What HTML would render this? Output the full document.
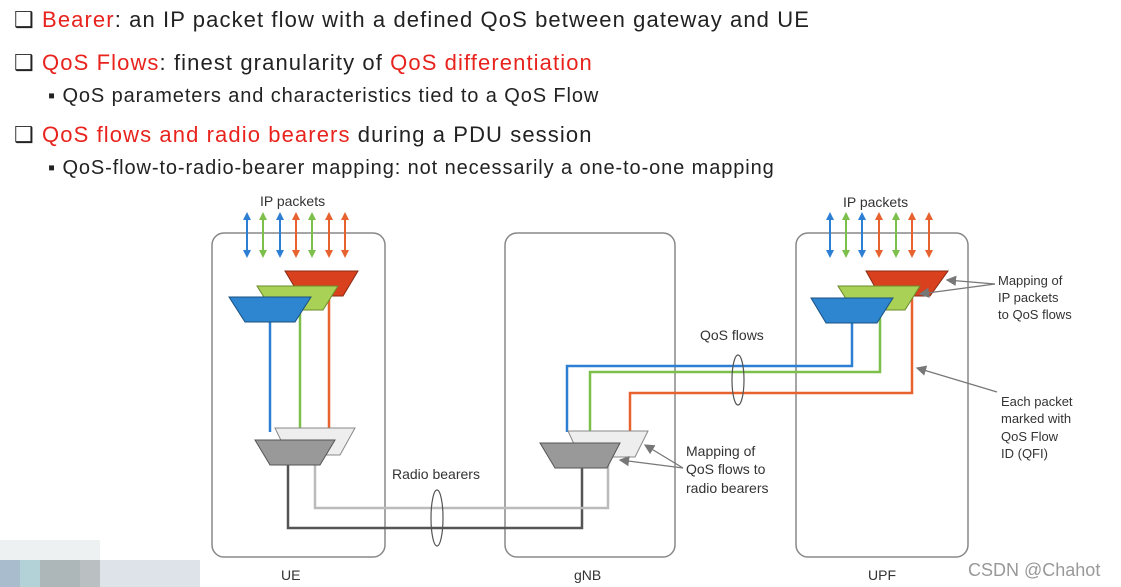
<!DOCTYPE html>
<html><head><meta charset="utf-8"><style>
body{margin:0;width:1121px;height:587px;background:#fff;overflow:hidden;position:relative;font-family:"Liberation Sans",sans-serif}
.t{position:absolute;white-space:nowrap;color:#222}
.h{font-size:22px;letter-spacing:1.1px}
.s{font-size:20px;letter-spacing:0.9px}
.r{color:#e8231d}
</style></head><body>
<div class="t h" style="left:14px;top:7px">❑ <span class="r">Bearer</span>: an IP packet flow with a defined QoS between gateway and UE</div>
<div class="t h" style="left:14px;top:50px">❑ <span class="r">QoS Flows</span>: finest granularity of <span class="r">QoS differentiation</span></div>
<div class="t s" style="left:48px;top:85px">▪ QoS parameters and characteristics tied to a QoS Flow</div>
<div class="t h" style="left:14px;top:122px">❑ <span class="r">QoS flows and radio bearers</span> during a PDU session</div>
<div class="t s" style="left:48px;top:157px">▪ QoS-flow-to-radio-bearer mapping: not necessarily a one-to-one mapping</div>
<svg width="1121" height="587" style="position:absolute;left:0;top:0" font-family="Liberation Sans,sans-serif" font-size="14" fill="#333">
<defs>
<marker id="ab" markerWidth="4" markerHeight="4" refX="2" refY="2" orient="auto-start-reverse"><path d="M0,0L4,2L0,4z" fill="#2d7fd3"/></marker>
<marker id="ag" markerWidth="4" markerHeight="4" refX="2" refY="2" orient="auto-start-reverse"><path d="M0,0L4,2L0,4z" fill="#7cc04b"/></marker>
<marker id="ar" markerWidth="4" markerHeight="4" refX="2" refY="2" orient="auto-start-reverse"><path d="M0,0L4,2L0,4z" fill="#e8622f"/></marker>
<marker id="ak" markerWidth="8" markerHeight="8" refX="7" refY="4" orient="auto"><path d="M0,0L8,4L0,8z" fill="#777"/></marker>
</defs>
<g fill="none" stroke="#888" stroke-width="1.5">
<rect x="212" y="233" width="173" height="324" rx="12"/>
<rect x="505" y="233" width="170" height="324" rx="12"/>
<rect x="796" y="233" width="172" height="324" rx="12"/>
</g>
<g stroke-width="2">
<line x1="247" y1="216" x2="247" y2="254" stroke="#2d7fd3" marker-start="url(#ab)" marker-end="url(#ab)"/>
<line x1="263" y1="216" x2="263" y2="254" stroke="#7cc04b" marker-start="url(#ag)" marker-end="url(#ag)"/>
<line x1="280" y1="216" x2="280" y2="254" stroke="#2d7fd3" marker-start="url(#ab)" marker-end="url(#ab)"/>
<line x1="296" y1="216" x2="296" y2="254" stroke="#e8622f" marker-start="url(#ar)" marker-end="url(#ar)"/>
<line x1="312" y1="216" x2="312" y2="254" stroke="#7cc04b" marker-start="url(#ag)" marker-end="url(#ag)"/>
<line x1="329" y1="216" x2="329" y2="254" stroke="#e8622f" marker-start="url(#ar)" marker-end="url(#ar)"/>
<line x1="345" y1="216" x2="345" y2="254" stroke="#e8622f" marker-start="url(#ar)" marker-end="url(#ar)"/>
<line x1="830" y1="216" x2="830" y2="254" stroke="#2d7fd3" marker-start="url(#ab)" marker-end="url(#ab)"/>
<line x1="846" y1="216" x2="846" y2="254" stroke="#7cc04b" marker-start="url(#ag)" marker-end="url(#ag)"/>
<line x1="862" y1="216" x2="862" y2="254" stroke="#2d7fd3" marker-start="url(#ab)" marker-end="url(#ab)"/>
<line x1="879" y1="216" x2="879" y2="254" stroke="#e8622f" marker-start="url(#ar)" marker-end="url(#ar)"/>
<line x1="896" y1="216" x2="896" y2="254" stroke="#7cc04b" marker-start="url(#ag)" marker-end="url(#ag)"/>
<line x1="912" y1="216" x2="912" y2="254" stroke="#e8622f" marker-start="url(#ar)" marker-end="url(#ar)"/>
<line x1="929" y1="216" x2="929" y2="254" stroke="#e8622f" marker-start="url(#ar)" marker-end="url(#ar)"/>
</g>
<text x="260" y="206">IP packets</text>
<text x="843" y="207">IP packets</text>
<g fill="none" stroke-width="2.5">
<polyline points="270,322 270,432" stroke="#2d7fd3"/>
<polyline points="300,310 300,430" stroke="#7cc04b"/>
<polyline points="329,296 329,430" stroke="#e8622f"/>
<polyline points="288,465 288,528 582,528 582,466" stroke="#555"/>
<polyline points="315,455 315,508 608,508 608,458" stroke="#bbb"/>
<polyline points="567,432 567,366 852,366 852,322" stroke="#2d7fd3"/>
<polyline points="590,432 590,372 880,372 880,310" stroke="#7cc04b"/>
<polyline points="630,432 630,393 912,393 912,296" stroke="#e8622f"/>
</g>
<polygon points="285,271 358,271 343,296 300,296" fill="#d9411e" stroke="#8a2a12"/>
<polygon points="257,286 338,286 323,310 272,310" fill="#a9d155" stroke="#6a8a2a"/>
<polygon points="229,297 311,297 295,322 245,322" fill="#2e86d0" stroke="#1a5080"/>
<polygon points="275,428 355,428 340,455 288,455" fill="#eee" stroke="#888"/>
<polygon points="255,440 335,440 320,465 270,465" fill="#999" stroke="#555"/>
<polygon points="568,431 648,431 635,457 580,457" fill="#eee" stroke="#888"/>
<polygon points="540,443 620,443 607,468 555,468" fill="#999" stroke="#555"/>
<polygon points="866,271 948,271 930,296 880,296" fill="#d9411e" stroke="#8a2a12"/>
<polygon points="838,286 920,286 905,310 853,310" fill="#a9d155" stroke="#6a8a2a"/>
<polygon points="811,298 893,298 877,323 826,323" fill="#2e86d0" stroke="#1a5080"/>
<g fill="none" stroke="#555" stroke-width="1.2">
<ellipse cx="738" cy="380" rx="6" ry="25"/>
<ellipse cx="437" cy="518" rx="6" ry="28"/>
</g>
<g stroke="#777" stroke-width="1.3" fill="none">
<line x1="995" y1="284" x2="947" y2="280" marker-end="url(#ak)"/>
<line x1="995" y1="284" x2="920" y2="294" marker-end="url(#ak)"/>
<line x1="997" y1="392" x2="917" y2="368" marker-end="url(#ak)"/>
<line x1="683" y1="468" x2="645" y2="445" marker-end="url(#ak)"/>
<line x1="683" y1="468" x2="620" y2="460" marker-end="url(#ak)"/>
</g>
<text x="700" y="340">QoS flows</text>
<text x="392" y="479">Radio bearers</text>
<text x="686" y="456">Mapping of</text><text x="686" y="474">QoS flows to</text><text x="686" y="493">radio bearers</text>
<text x="998" y="285" font-size="13">Mapping of</text><text x="998" y="302" font-size="13">IP packets</text><text x="998" y="319" font-size="13">to QoS flows</text>
<text x="1001" y="406" font-size="13">Each packet</text><text x="1001" y="423" font-size="13">marked with</text><text x="1001" y="441" font-size="13">QoS Flow</text><text x="1001" y="458" font-size="13">ID (QFI)</text>
<text x="281" y="580">UE</text><text x="574" y="580">gNB</text><text x="868" y="580">UPF</text>
<text x="968" y="576" font-size="18" fill="#999">CSDN @Chahot</text>
<g>
<rect x="0" y="540" width="100" height="20" fill="#eef1f2"/>
<rect x="0" y="560" width="20" height="27" fill="#a9bccd"/><rect x="20" y="560" width="20" height="27" fill="#b2d2d8"/>
<rect x="40" y="560" width="40" height="27" fill="#adb7b9"/><rect x="80" y="560" width="20" height="27" fill="#bac0c2"/>
<rect x="100" y="560" width="100" height="27" fill="#dde3e8"/>
</g>
</svg>
</body></html>
